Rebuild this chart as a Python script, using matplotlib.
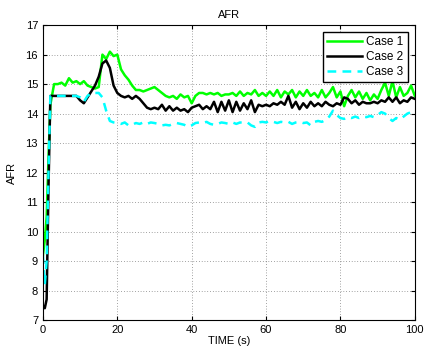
import numpy as np
import matplotlib
matplotlib.use("Agg")
import matplotlib.pyplot as plt

plt.rcParams['font.family'] = ['Liberation Sans', 'DejaVu Sans']

time_s = np.concatenate([[0, 0.5, 1, 1.5], np.arange(2, 101)])

case1 = [9.2, 9.7, 10.5, 12.5,
         14.3, 15.0, 15.0, 15.05, 14.95, 15.2, 15.05, 15.1, 15.0, 15.1,
         14.95, 14.9, 14.85, 14.9, 16.0, 15.85, 16.1, 15.95, 16.0, 15.5,
         15.3, 15.15, 14.95, 14.8, 14.8, 14.75, 14.8, 14.85, 14.9, 14.8,
         14.7, 14.6, 14.55, 14.6, 14.5, 14.65, 14.55, 14.6, 14.35, 14.6,
         14.7, 14.7, 14.65, 14.7, 14.65, 14.7, 14.6, 14.65, 14.65, 14.7,
         14.6, 14.75, 14.6, 14.7, 14.65, 14.8, 14.6, 14.7, 14.6, 14.75,
         14.6, 14.8, 14.55, 14.75, 14.65, 14.8, 14.55, 14.75, 14.6, 14.8,
         14.6, 14.7, 14.55, 14.8, 14.55, 14.7, 14.9, 14.55, 14.75, 14.25,
         14.6, 14.8, 14.55, 14.75, 14.5, 14.7, 14.45, 14.65, 14.5, 14.8,
         15.05, 14.6, 15.1, 14.55, 14.9, 14.6, 14.7, 14.95, 14.6]

case2 = [7.5, 7.4, 7.7, 11.5,
         14.6, 14.6, 14.6, 14.6, 14.6, 14.6, 14.6, 14.6, 14.45, 14.35,
         14.55, 14.75, 14.95, 15.25, 15.7, 15.8, 15.55, 14.95, 14.7, 14.6,
         14.55, 14.6, 14.5, 14.6, 14.5, 14.35, 14.2, 14.15, 14.2, 14.15,
         14.3, 14.1, 14.25, 14.1, 14.2, 14.1, 14.15, 14.05, 14.2, 14.25,
         14.3, 14.15, 14.25, 14.15, 14.4, 14.05, 14.4, 14.1, 14.45, 14.05,
         14.4, 14.1, 14.35, 14.15, 14.45, 14.05, 14.3, 14.25, 14.3, 14.25,
         14.35, 14.3, 14.4, 14.3, 14.6, 14.2, 14.4, 14.15, 14.35, 14.2,
         14.4, 14.25, 14.35, 14.25, 14.4, 14.3, 14.25, 14.35, 14.3, 14.55,
         14.5, 14.35, 14.45, 14.3, 14.4, 14.35, 14.35, 14.4, 14.35, 14.45,
         14.4, 14.55, 14.4, 14.55, 14.35, 14.45, 14.4, 14.55, 14.5]

case3 = [9.2, 8.2, 9.0, 12.0,
         14.6, 14.6, 14.6, 14.6, 14.6, 14.6, 14.6, 14.6, 14.55, 14.4,
         14.6, 14.7, 14.7, 14.7, 14.55, 14.1, 13.75, 13.7, 13.68, 13.65,
         13.7, 13.6, 13.62, 13.68, 13.65, 13.7, 13.65, 13.7, 13.68, 13.65,
         13.6, 13.62, 13.6, 13.65, 13.68, 13.65, 13.62, 13.55, 13.6, 13.68,
         13.7, 13.68, 13.72, 13.65, 13.62, 13.65, 13.7, 13.68, 13.65, 13.7,
         13.65, 13.7, 13.68, 13.7, 13.6, 13.55, 13.7, 13.72, 13.7, 13.75,
         13.72, 13.68, 13.72, 13.7, 13.72, 13.65, 13.7, 13.72, 13.68, 13.7,
         13.6, 13.72, 13.75, 13.72, 13.78, 13.9, 14.1, 13.95, 13.85, 13.82,
         13.88, 13.85, 13.9, 13.85, 13.9, 13.88, 13.92, 13.88, 13.95, 14.05,
         14.0, 13.85, 13.75, 13.85, 13.8, 13.9, 14.0, 14.05, 13.95]

labels = ['Case 1', 'Case 2', 'Case 3']
x_ticks = [0, 20, 40, 60, 80, 100]
y_ticks = [7, 8, 9, 10, 11, 12, 13, 14, 15, 16, 17]

fig = plt.figure(figsize=(4.25, 3.54), dpi=100)
ax = fig.add_axes([0.101, 0.096, 0.875, 0.833])

ax.plot(time_s, case1, color='#00ff00', lw=1.8, label=labels[0])
ax.plot(time_s, case2, color='black', lw=1.8, label=labels[1])
ax.plot(time_s, case3, color='#00ffff', lw=1.8, ls=(0, (3.5, 2.5)), label=labels[2])

ax.set_xlim(0, 100)
ax.set_ylim(7, 17)
ax.set_xticks(x_ticks)
ax.set_yticks(y_ticks)
ax.tick_params(direction='in', labelsize=8, length=3, top=True, right=True)
ax.grid(True, color='black', ls=(0, (1, 3)), lw=0.5, alpha=0.7)
for s in ax.spines.values():
    s.set_linewidth(0.8)

ax.set_title('AFR', fontsize=8, pad=5)
ax.set_xlabel('TIME (s)', fontsize=8, labelpad=1)
ax.set_ylabel('AFR', fontsize=8, labelpad=6)

leg = ax.legend(loc='upper right', fontsize=8.5, fancybox=False, framealpha=1,
                edgecolor='black', handlelength=2.9, handletextpad=0.4,
                borderaxespad=0.6, labelspacing=0.25, borderpad=0.35)
leg.get_frame().set_linewidth(1.0)

fig.savefig('out.png', dpi=100)
